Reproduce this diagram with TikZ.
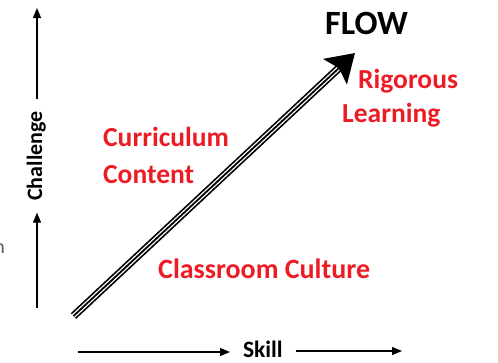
\documentclass[tikz,border=0pt]{standalone}
\usepackage{fontspec}
\setmainfont{Carlito}
\usepackage{xcolor}
\usetikzlibrary{arrows.meta,positioning}
\definecolor{flowred}{RGB}{237,28,36}
\tikzset{
  redlabel/.style={text=flowred, font=\fontsize{27.5}{32}\selectfont\bfseries, inner sep=0pt, anchor=base west},
  axislabel/.style={font=\fontsize{22}{26}\selectfont\bfseries, inner sep=0pt, outer sep=12pt},
  axisarrow/.style={line width=1.1pt, -{Triangle[length=10pt,width=8pt]}},
}
\begin{document}
\begin{tikzpicture}[x=1pt,y=-1pt]
  \useasboundingbox (0,0) rectangle (498,362);
  % Define nodes
  \node[redlabel] (curriculum) at (103,146) {Curriculum};
  \node[redlabel] (content) at (103,183) {Content};
  \node[redlabel] (rigorous) at (358,88) {Rigorous};
  \node[redlabel] (learning) at (342,122) {Learning};
  \node[redlabel, font=\fontsize{28}{32}\selectfont\bfseries] (culture) at (158,278) {Classroom Culture};
  \node[font=\fontsize{34}{40}\selectfont\bfseries, inner sep=0pt, anchor=base west] (flow) at (325,34) {FLOW};
  \node[axislabel, rotate=90, anchor=base] (challenge) at (42,156) {Challenge};
  \node[axislabel, font=\fontsize{23.5}{28}\selectfont\bfseries, anchor=base west, outer sep=0pt] (skill) at (243,357) {Skill};
  \node[text=black!65, font=\fontsize{20}{24}\selectfont, inner sep=0pt, anchor=base east] (cut) at (5,253) {n};
  % Axes
  \coordinate (ylow) at (37,308);
  \coordinate (yhigh) at (37,8);
  \coordinate (xlow) at (78,352);
  \coordinate (xhigh) at (402,351);
  \draw[axisarrow] (ylow) -- (ylow |- challenge.west);
  \draw[axisarrow] (yhigh |- challenge.east) -- (yhigh);
  \draw[axisarrow, shorten >=13pt] (xlow) -- (xlow -| skill.west);
  \draw[axisarrow, shorten <=13pt] (xhigh -| skill.east) -- (xhigh);
  % Flow arrow
  \coordinate (start) at (73.5,316);
  \coordinate (tip) at (355,53);
  \draw[line width=7.8pt, -{Stealth[length=27pt,width=34pt,inset=5pt]}] (start) -- (tip);
  \draw[white, line width=4.4pt, shorten >=23pt] (start) -- (tip);
  \draw[line width=1.8pt, shorten >=23pt] (start) -- (tip);
\end{tikzpicture}
\end{document}
